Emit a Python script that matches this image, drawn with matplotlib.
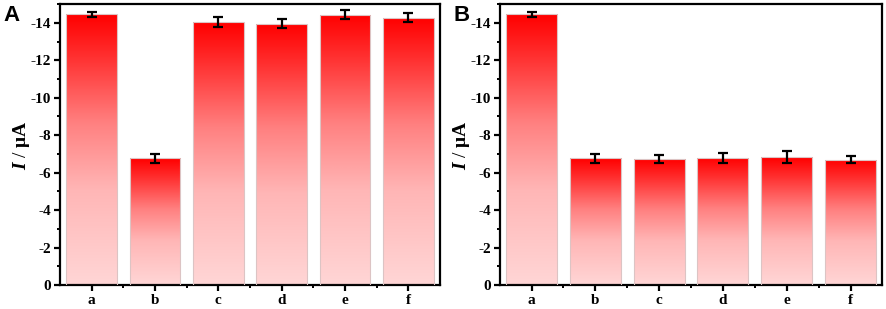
import matplotlib
matplotlib.use('Agg')
import matplotlib.pyplot as plt
import numpy as np
from matplotlib.colors import LinearSegmentedColormap

# data (current in uA, negative)
labels = ['a', 'b', 'c', 'd', 'e', 'f']
vals_A = [-14.45, -6.76, -14.04, -13.96, -14.43, -14.27]
err_A = [0.14, 0.25, 0.26, 0.22, 0.24, 0.24]
vals_B = [-14.45, -6.76, -6.71, -6.79, -6.82, -6.69]
err_B = [0.14, 0.25, 0.22, 0.28, 0.32, 0.19]
yticks = [0, -2, -4, -6, -8, -10, -12, -14]
ytick_labels = ['0', '-2', '-4', '-6', '-8', '-10', '-12', '-14']

plt.rcParams['font.family'] = ['Liberation Serif', 'DejaVu Serif']
plt.rcParams['mathtext.fontset'] = 'custom'
plt.rcParams['mathtext.it'] = 'Liberation Serif:italic:bold'
plt.rcParams['mathtext.rm'] = 'Liberation Serif:bold'

# bottom -> top of each bar
cmap = LinearSegmentedColormap.from_list(
    'rg', [(0.0, '#ffd6d6'), (0.35, '#ffb6b6'), (0.6, '#ff8080'),
           (0.85, '#ff2e2e'), (1.0, '#ff0000')])
grad = np.linspace(0, 1, 256).reshape(-1, 1)

fig = plt.figure(figsize=(8.86, 3.09), dpi=100)
ax_a = fig.add_axes([0.0677, 0.0777, 0.429, 0.909])
ax_b = fig.add_axes([0.564, 0.0777, 0.432, 0.909])


def draw(ax, vals, err):
    x = np.arange(len(vals))
    bars = ax.bar(x, vals, width=0.8, color='none', edgecolor='#dcc4c4',
                  linewidth=0.8, zorder=3)
    for b in bars:
        x0 = b.get_x()
        x1 = x0 + b.get_width()
        h = b.get_height()
        im = ax.imshow(grad, cmap=cmap, origin='lower', aspect='auto',
                       extent=(x0, x1, 0, h), zorder=2)
        im.set_clip_path(b)
    ax.errorbar(x, vals, yerr=err, fmt='none', ecolor='black', elinewidth=1.6,
                capsize=3.5, capthick=1.6, zorder=4)
    ax.set_xlim(-0.5, len(vals) - 0.5)
    ax.set_ylim(0, -15)
    ax.set_xticks(x)
    ax.set_xticklabels(labels, fontweight='bold', fontsize=11)
    ax.set_xticks(np.arange(-0.5, len(vals), 1)[1:-1], minor=True)
    ax.set_yticks(yticks)
    ax.set_yticklabels(ytick_labels, fontweight='bold', fontsize=11)
    ax.set_yticks(np.arange(-15, 0, 2), minor=True)
    ax.tick_params(which='major', direction='out', length=4.5, width=1.6, pad=2)
    ax.tick_params(which='minor', direction='out', length=2.5, width=1.4)
    for s in ax.spines.values():
        s.set_linewidth(1.6)
    ax.set_ylabel(r'$I$ / $\mathrm{\mu A}$', fontsize=14, labelpad=-1)


draw(ax_a, vals_A, err_A)
draw(ax_b, vals_B, err_B)

fig.text(3 / 886, 1 - 5 / 309, 'A', fontsize=16, fontweight='bold',
         family='Liberation Sans', va='top', ha='left')
fig.text(453 / 886, 1 - 5 / 309, 'B', fontsize=16, fontweight='bold',
         family='Liberation Sans', va='top', ha='left')

fig.savefig('out.png', dpi=100)
